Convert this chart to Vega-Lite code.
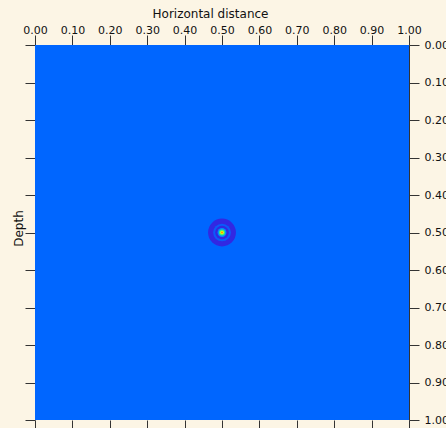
{
  "$schema": "https://vega.github.io/schema/vega-lite/v6.json",
  "width": 374,
  "height": 375,
  "autosize": {"type": "none"},
  "padding": {"left": 35, "top": 45, "right": 37, "bottom": 8},
  "background": "#FCF5E5",
  "config": {
    "view": {"stroke": null},
    "axis": {
      "labelFont": "DejaVu Sans",
      "titleFont": "DejaVu Sans",
      "labelFontSize": 11,
      "titleFontSize": 12,
      "titleFontWeight": "normal",
      "tickColor": "#333333",
      "tickSize": 10,
      "domain": false,
      "grid": false,
      "labelColor": "#111111",
      "titleColor": "#111111",
      "labelFlush": false,
      "labelOverlap": false,
      "labelBound": false
    }
  },
  "datasets": {
    "field": [{"x0": 0, "x1": 1, "y0": 0, "y1": 1, "v": 0}],
    "pulse": [
      {"x": 0.5, "y": 0.5, "r": 0.042, "v": -0.3},
      {"x": 0.5, "y": 0.5, "r": 0.0267, "v": -0.06},
      {"x": 0.5, "y": 0.5, "r": 0.0205, "v": -0.3},
      {"x": 0.5, "y": 0.5, "r": 0.0134, "v": 0.2},
      {"x": 0.5, "y": 0.5, "r": 0.0089, "v": 0.5},
      {"x": 0.5, "y": 0.5, "r": 0.0053, "v": 0.75},
      {"x": 0.5, "y": 0.5, "r": 0.0027, "v": 0.95}
    ]
  },
  "layer": [
    {
      "data": {"name": "field"},
      "mark": {"type": "rect"},
      "encoding": {
        "x": {
          "field": "x0", "type": "quantitative",
          "scale": {"domain": [0, 1], "nice": false, "zero": false},
          "axis": {
            "orient": "top", "title": "Horizontal distance",
            "values": [0, 0.1, 0.2, 0.3, 0.4, 0.5, 0.6, 0.7, 0.8, 0.9, 1],
            "format": ".2f", "labelPadding": 0,
            "titleX": 175, "titleY": -28, "titleBaseline": "alphabetic", "titleAlign": "center"
          }
        },
        "x2": {"field": "x1"},
        "y": {
          "field": "y0", "type": "quantitative",
          "scale": {"domain": [0, 1], "reverse": true, "nice": false, "zero": false},
          "axis": {
            "orient": "left", "title": "Depth", "labels": false,
            "values": [0, 0.1, 0.2, 0.3, 0.4, 0.5, 0.6, 0.7, 0.8, 0.9, 1],
            "titleX": -17, "titleY": 183, "titleBaseline": "middle", "titleAlign": "center", "titleAngle": 270
          }
        },
        "y2": {"field": "y1"},
        "color": {
          "field": "v", "type": "quantitative",
          "scale": {
            "domain": [-0.3, 0, 0.25, 0.5, 0.75, 1],
            "range": ["#3228E2", "#0066FF", "#0096FF", "#40F070", "#FFFF00", "#FF6000"]
          },
          "legend": null
        }
      }
    },
    {
      "data": {"name": "pulse"},
      "mark": {"type": "point", "shape": "circle", "filled": true, "opacity": 1, "strokeWidth": 0},
      "encoding": {
        "x": {
          "field": "x", "type": "quantitative",
          "axis": {
            "orient": "bottom", "labels": false, "title": null,
            "values": [0, 0.1, 0.2, 0.3, 0.4, 0.5, 0.6, 0.7, 0.8, 0.9, 1]
          }
        },
        "y": {
          "field": "y", "type": "quantitative",
          "axis": {
            "orient": "right", "title": null, "format": ".2f",
            "values": [0, 0.1, 0.2, 0.3, 0.4, 0.5, 0.6, 0.7, 0.8, 0.9, 1],
            "labelPadding": 5, "labelBaseline": "middle",
            "domain": true, "domainColor": "#333333"
          }
        },
        "size": {
          "field": "r", "type": "quantitative",
          "scale": {"type": "pow", "exponent": 2, "domain": [0, 0.05], "range": [0, 1101]},
          "legend": null
        },
        "color": {"field": "v", "type": "quantitative", "legend": null}
      }
    }
  ],
  "resolve": {"axis": {"x": "independent", "y": "independent"}}
}
